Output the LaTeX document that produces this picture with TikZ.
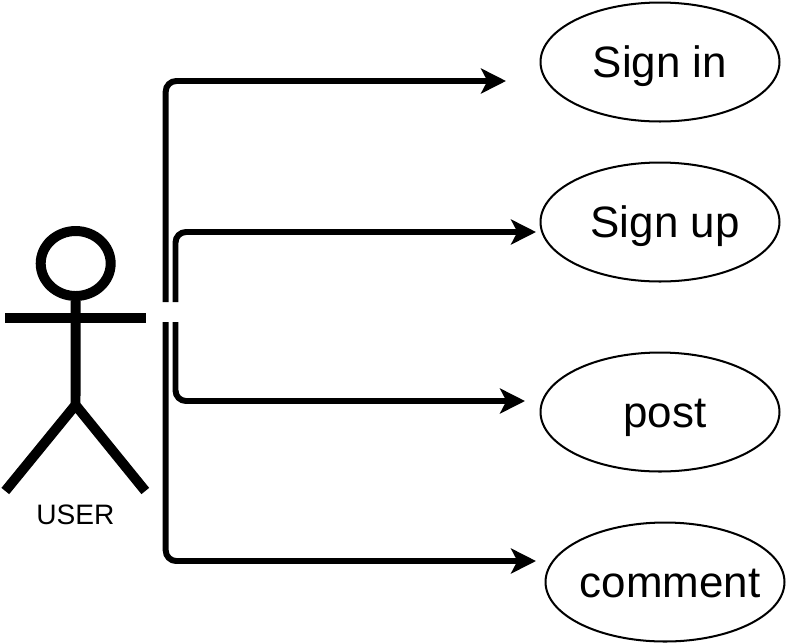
\documentclass[tikz,border=0pt]{standalone}
\usepackage{fontspec}
\setmainfont{Liberation Sans}
\usetikzlibrary{arrows.meta,shapes.geometric}

\tikzset{
	usecase/.style={ellipse, draw, line width=1.15pt, minimum width=4.78cm, minimum height=2.38cm, inner ysep=0pt, inner xsep=-12pt, font=\fontsize{25}{25}\selectfont, text height=20pt, text depth=2.4pt},
	limb/.style={line width=5.67pt},
	link/.style={line width=3.4pt, rounded corners=6pt, -{Stealth[length=14.2pt, width=14.2pt, inset=3.6pt]}}
}

\begin{document}
\begin{tikzpicture}[x=0.02cm, y=-0.02cm]
			\useasboundingbox (0,0) rectangle (787,643);
			
			\node[usecase] (signin) at (660,62) {Sign in};
			\node[usecase] (signup) at (660,222) {\hspace*{5.7pt}Sign up};
			\node[usecase] (post) at (660,412) {\hspace*{5.7pt}post};
			\node[usecase] (comment) at (665,582) {\hspace*{5.7pt}comment};
			
			\node[ellipse, draw, line width=5.67pt, minimum width=1.4cm, minimum height=1.3cm, inner sep=0pt] (head) at (75.7,263.5) {};
			\coordinate (hip) at (75.5,405);
			\coordinate (handl) at (5,318);
			\coordinate (handr) at (146,318);
			\coordinate (footl) at (5.3,491);
			\coordinate (footr) at (145.3,491);
			\node[font=\fontsize{16}{16}\selectfont] (user) at (75.5,515) {USER};
			
			\draw[limb] (head.south) -- (hip);
			\draw[limb] (handl) -- (handr);
			\draw[limb] (footl) -- (hip) -- (footr);
			
			\coordinate (a) at (165.7,302);
			\coordinate (b) at (175.5,302);
			\coordinate (c) at (175.5,322);
			\coordinate (d) at (165.7,322);
			\coordinate (signinend) at (506,81);
			\coordinate (signupend) at (536,232);
			\coordinate (postend) at (525,401);
			\coordinate (commentend) at (536,561);
			
			\draw[link] (a) |- (signinend);
			\draw[link] (b) |- (signupend);
			\draw[link] (c) |- (postend);
			\draw[link] (d) |- (commentend);
		\end{tikzpicture}
\end{document}
